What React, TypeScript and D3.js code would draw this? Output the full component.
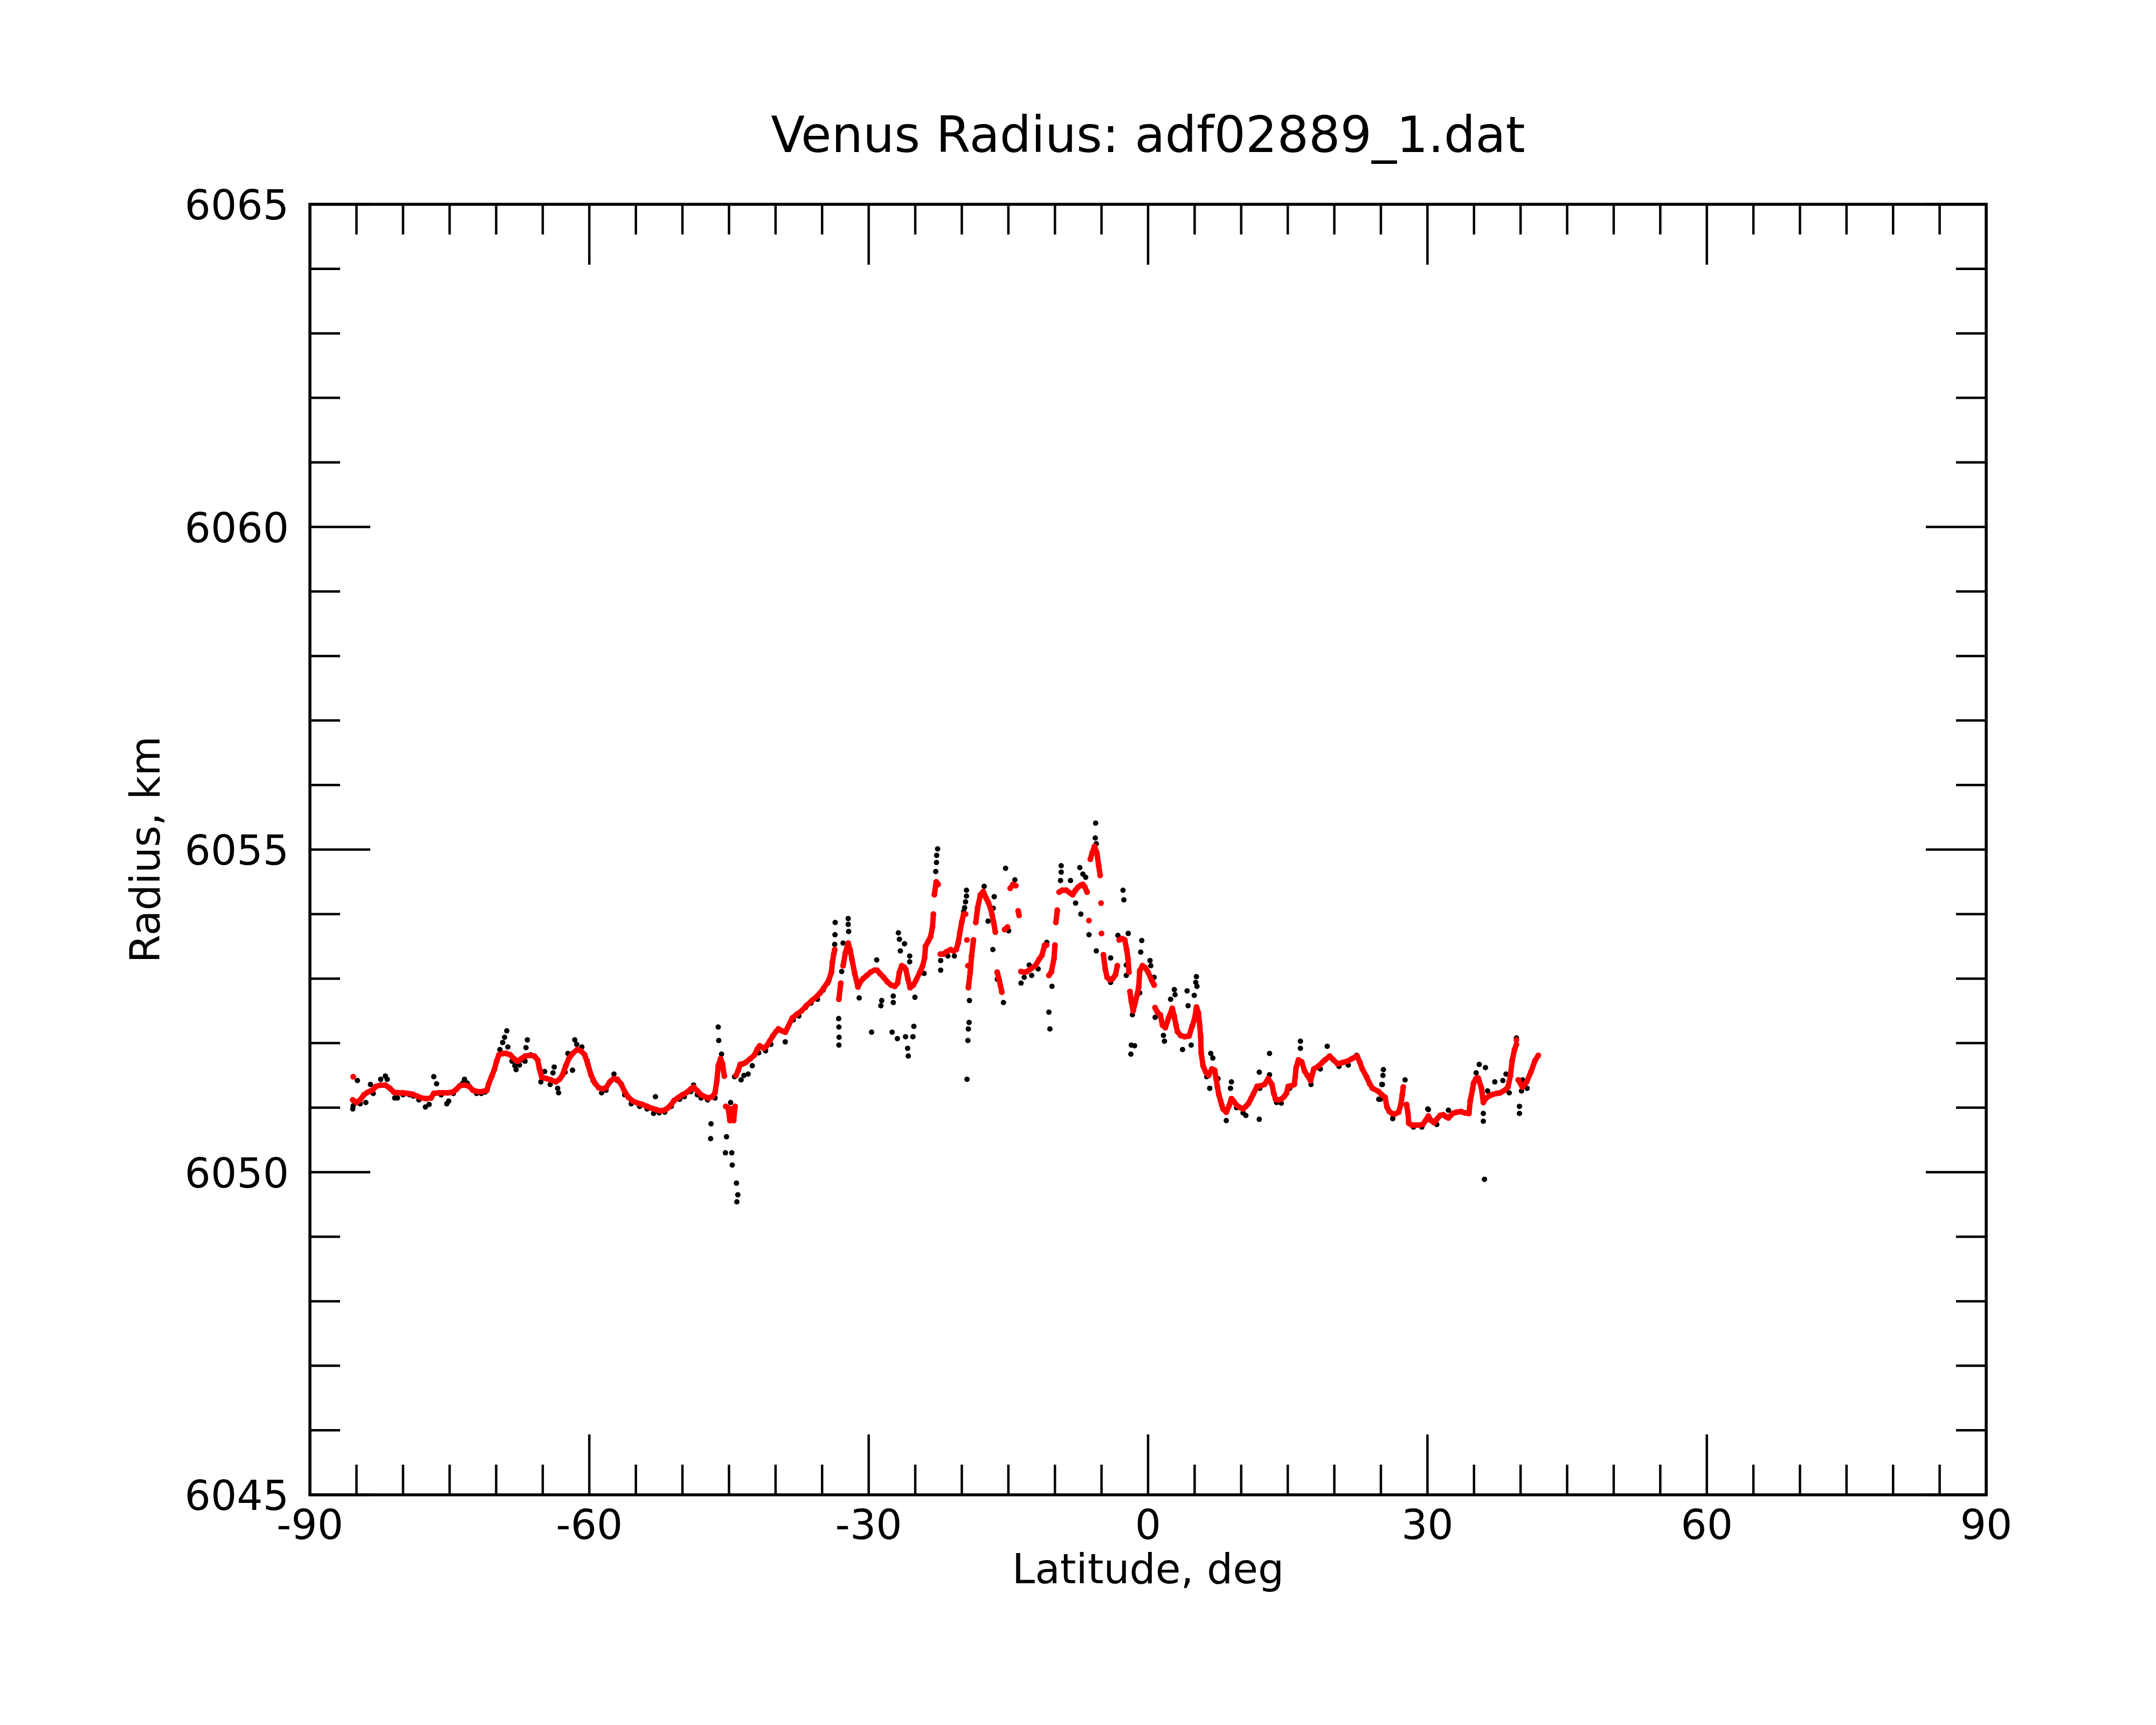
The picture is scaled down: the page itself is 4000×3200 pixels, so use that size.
import React from "react";
import * as d3 from "d3";

const W = 4000;
const H = 3200;

const titleText = "Venus Radius: adf02889_1.dat";
const xLabelText = "Latitude, deg";
const yLabelText = "Radius, km";

const xTickLabels = [-90, -60, -30, 0, 30, 60, 90];
const yTickLabels = [6045, 6050, 6055, 6060, 6065];

// Smoothed profile (red), [latitude deg, radius km]
const redTrack: [number, number][] = [
[-85.4,6051.12],[-85.0,6051.08],[-84.6,6051.12],[-84.2,6051.2],[-83.8,6051.24],[-83.3,6051.27],[-82.9,6051.33],[-82.4,6051.35],[-81.9,6051.35],[-81.4,6051.3],[-81.0,6051.24],[-80.5,6051.23],[-80.0,6051.23],[-79.5,6051.22],[-79.0,6051.21],[-78.5,6051.18],[-78.0,6051.15],[-77.5,6051.14],[-77.0,6051.15],[-76.7,6051.22],[-76.2,6051.23],[-75.7,6051.23],[-75.2,6051.23],[-74.7,6051.24],[-74.3,6051.28],[-73.9,6051.34],[-73.4,6051.35],[-72.9,6051.33],[-72.5,6051.27],[-72.0,6051.25],[-71.5,6051.25],[-71.0,6051.27],[-70.8,6051.37],[-70.5,6051.48],[-70.2,6051.59],[-69.95,6051.72],[-69.7,6051.82],[-69.3,6051.84],[-68.9,6051.84],[-68.5,6051.82],[-68.1,6051.76],[-67.7,6051.72],[-67.3,6051.76],[-66.9,6051.8],[-66.4,6051.81],[-65.9,6051.8],[-65.55,6051.74],[-65.35,6051.6],[-65.1,6051.47],[-64.6,6051.45],[-64.1,6051.43],[-63.6,6051.4],[-63.2,6051.44],[-62.9,6051.5],[-62.55,6051.64],[-62.2,6051.76],[-61.8,6051.84],[-61.3,6051.9],[-60.9,6051.88],[-60.5,6051.82],[-60.15,6051.67],[-59.8,6051.5],[-59.4,6051.38],[-59.0,6051.31],[-58.6,6051.29],[-58.2,6051.31],[-57.8,6051.4],[-57.4,6051.45],[-57.0,6051.44],[-56.6,6051.37],[-56.2,6051.25],[-55.8,6051.16],[-55.3,6051.1],[-54.8,6051.07],[-54.3,6051.05],[-53.8,6051.02],[-53.3,6050.99],[-52.8,6050.97],[-52.4,6050.95],[-52.0,6050.96],[-51.6,6050.99],[-51.2,6051.05],[-50.9,6051.11],[-50.4,6051.16],[-50.0,6051.2],[-49.5,6051.24],[-49.1,6051.29],[-48.8,6051.32],[-48.4,6051.26],[-48.0,6051.2],[-47.6,6051.17],[-47.2,6051.15],[-46.8,6051.17],[-46.5,6051.23],[-46.3,6051.42],[-46.15,6051.65],[-45.9,6051.76],[-45.7,6051.68],[-45.5,6051.49],[-45.35,6051.02],[-45.1,6051.0],[-44.9,6050.8],[-44.7,6050.98],[-44.5,6050.8],[-44.35,6051.02],[-44.25,6051.5],[-44.0,6051.58],[-43.8,6051.67],[-43.5,6051.68],[-43.2,6051.7],[-42.7,6051.76],[-42.3,6051.81],[-41.95,6051.91],[-41.7,6051.96],[-41.3,6051.92],[-41.0,6051.95],[-40.6,6052.04],[-40.3,6052.11],[-39.95,6052.18],[-39.7,6052.22],[-39.3,6052.19],[-38.95,6052.17],[-38.2,6052.39],[-37.7,6052.45],[-37.2,6052.5],[-36.7,6052.58],[-36.1,6052.66],[-35.6,6052.72],[-35.2,6052.78],[-34.8,6052.86],[-34.3,6052.97],[-34.0,6053.1],[-33.9,6053.25],[-33.75,6053.38],[-33.65,6053.45],[-33.2,6052.68],[-33.0,6052.93],[-32.75,6053.2],[-32.5,6053.4],[-32.2,6053.55],[-32.0,6053.45],[-31.8,6053.3],[-31.5,6053.08],[-31.15,6052.87],[-30.9,6052.95],[-30.6,6053.0],[-30.2,6053.05],[-29.8,6053.1],[-29.4,6053.13],[-29.1,6053.13],[-28.8,6053.08],[-28.4,6053.02],[-28.0,6052.95],[-27.6,6052.9],[-27.2,6052.88],[-26.9,6052.93],[-26.7,6053.1],[-26.45,6053.2],[-26.2,6053.18],[-26.0,6053.14],[-25.8,6053.0],[-25.55,6052.86],[-25.2,6052.9],[-24.9,6052.98],[-24.5,6053.1],[-24.2,6053.2],[-24.0,6053.32],[-23.9,6053.5],[-23.6,6053.58],[-23.35,6053.65],[-23.15,6053.8],[-23.05,6054.0],[-22.95,6054.3],[-22.75,6054.5],[-22.55,6054.46],[-22.3,6053.38],[-22.0,6053.38],[-21.6,6053.42],[-21.2,6053.45],[-20.9,6053.43],[-20.6,6053.45],[-20.4,6053.55],[-20.2,6053.72],[-20.0,6053.88],[-19.8,6054.0],[-19.6,6054.0],[-19.45,6053.6],[-19.35,6053.2],[-19.3,6052.86],[-19.1,6053.1],[-18.95,6053.35],[-18.75,6053.6],[-18.5,6053.87],[-18.3,6054.1],[-18.0,6054.3],[-17.7,6054.35],[-17.4,6054.25],[-17.15,6054.18],[-16.9,6054.08],[-16.75,6053.99],[-16.55,6053.85],[-16.4,6053.72],[-16.2,6053.1],[-16.0,6052.99],[-15.7,6052.79],[-15.4,6053.76],[-15.1,6053.8],[-14.8,6054.4],[-14.5,6054.46],[-14.2,6054.44],[-13.95,6054.05],[-13.85,6053.98],[-13.65,6053.11],[-13.3,6053.1],[-13.0,6053.11],[-12.6,6053.15],[-12.1,6053.2],[-11.7,6053.3],[-11.4,6053.36],[-11.1,6053.52],[-10.9,6053.52],[-10.65,6053.05],[-10.4,6053.1],[-10.1,6053.31],[-10.0,6053.52],[-9.9,6053.87],[-9.75,6054.06],[-9.55,6054.34],[-9.2,6054.37],[-8.8,6054.37],[-8.4,6054.33],[-8.1,6054.3],[-7.8,6054.37],[-7.5,6054.42],[-7.2,6054.45],[-7.0,6054.46],[-6.8,6054.42],[-6.55,6054.34],[-6.2,6054.85],[-6.0,6054.95],[-5.75,6055.05],[-5.5,6054.95],[-5.3,6054.75],[-5.15,6054.6],[-5.05,6054.17],[-5.0,6053.7],[-4.8,6053.37],[-4.6,6053.15],[-4.4,6053.02],[-4.1,6052.98],[-3.8,6053.0],[-3.5,6053.06],[-3.3,6053.2],[-3.1,6053.6],[-2.8,6053.62],[-2.5,6053.6],[-2.3,6053.45],[-2.15,6053.3],[-2.05,6053.1],[-1.95,6052.8],[-1.8,6052.65],[-1.6,6052.5],[-1.4,6052.62],[-1.2,6052.74],[-1.0,6052.87],[-0.9,6053.12],[-0.6,6053.2],[-0.3,6053.17],[0.0,6053.1],[0.4,6052.97],[0.65,6052.9],[0.75,6052.55],[1.0,6052.48],[1.3,6052.44],[1.55,6052.28],[1.85,6052.24],[2.2,6052.39],[2.6,6052.54],[2.8,6052.42],[3.0,6052.28],[3.15,6052.18],[3.5,6052.12],[3.9,6052.1],[4.4,6052.11],[4.75,6052.27],[5.0,6052.38],[5.2,6052.56],[5.4,6052.47],[5.55,6052.27],[5.65,6052.1],[5.7,6051.85],[5.9,6051.65],[6.2,6051.55],[6.5,6051.5],[6.85,6051.6],[7.15,6051.58],[7.3,6051.45],[7.45,6051.32],[7.6,6051.2],[7.8,6051.1],[8.05,6050.98],[8.4,6050.93],[8.7,6051.03],[8.95,6051.14],[9.2,6051.1],[9.5,6051.04],[9.9,6051.0],[10.2,6050.98],[10.5,6051.02],[10.8,6051.07],[11.05,6051.14],[11.3,6051.21],[11.7,6051.33],[12.1,6051.34],[12.5,6051.36],[12.9,6051.45],[13.3,6051.36],[13.5,6051.22],[13.7,6051.13],[14.0,6051.12],[14.3,6051.13],[14.6,6051.17],[14.85,6051.22],[15.05,6051.33],[15.4,6051.34],[15.7,6051.36],[15.8,6051.48],[15.9,6051.62],[16.15,6051.74],[16.5,6051.71],[16.8,6051.57],[17.1,6051.5],[17.45,6051.42],[17.8,6051.6],[18.35,6051.65],[18.7,6051.7],[19.0,6051.74],[19.5,6051.8],[19.9,6051.74],[20.35,6051.68],[20.9,6051.7],[21.4,6051.72],[21.9,6051.76],[22.45,6051.8],[22.75,6051.7],[23.0,6051.6],[23.45,6051.48],[23.8,6051.37],[24.1,6051.3],[24.75,6051.25],[25.1,6051.2],[25.45,6051.16],[25.65,6051.01],[25.9,6050.94],[26.2,6050.91],[26.5,6050.9],[26.9,6050.93],[27.15,6051.05],[27.3,6051.2],[27.4,6051.32],[27.75,6051.05],[27.9,6050.92],[28.0,6050.76],[28.3,6050.73],[28.7,6050.73],[29.1,6050.73],[29.5,6050.74],[29.8,6050.8],[30.1,6050.87],[30.4,6050.8],[30.7,6050.77],[31.0,6050.82],[31.35,6050.88],[31.7,6050.89],[32.0,6050.86],[32.25,6050.84],[32.7,6050.91],[33.1,6050.93],[33.6,6050.94],[34.0,6050.92],[34.45,6050.91],[34.6,6051.11],[34.85,6051.29],[34.95,6051.38],[35.2,6051.45],[35.45,6051.46],[35.8,6051.3],[36.0,6051.08],[36.25,6051.14],[36.6,6051.18],[36.9,6051.2],[37.4,6051.22],[37.8,6051.23],[38.3,6051.27],[38.65,6051.32],[38.9,6051.49],[39.1,6051.73],[39.35,6051.9],[39.55,6051.98],[39.75,6051.43],[40.2,6051.32],[40.65,6051.4],[41.1,6051.55],[41.55,6051.73],[41.9,6051.81]
];

// Isolated red points
const redExtra: [number, number][] = [
[-85.35,6051.48],[-6.35,6053.9],[39.55,6052.05]
];

// Raw measurements (black)
const blackPoints: [number, number][] = [
[-85.4,6050.98],[-85.35,6051.03],[-84.9,6051.42],[-84.6,6051.06],[-84.0,6051.08],[-83.5,6051.36],[-83.2,6051.22],[-82.4,6051.44],[-81.9,6051.49],[-81.7,6051.44],[-81.3,6051.28],[-80.9,6051.15],[-80.6,6051.15],[-80.0,6051.2],[-79.3,6051.2],[-78.9,6051.18],[-78.3,6051.12],[-77.6,6051.01],[-77.2,6051.05],[-76.7,6051.48],[-76.4,6051.37],[-75.9,6051.2],[-75.3,6051.06],[-75.1,6051.1],[-74.6,6051.22],[-73.6,6051.38],[-73.4,6051.44],[-73.1,6051.38],[-72.1,6051.22],[-71.6,6051.22],[-71.2,6051.24],[-69.6,6051.9],[-69.3,6052.01],[-69.1,6052.09],[-68.86,6052.19],[-68.75,6051.94],[-68.3,6051.72],[-68.0,6051.65],[-67.86,6051.59],[-67.5,6051.66],[-67.2,6051.74],[-66.9,6051.72],[-66.8,6051.93],[-66.65,6052.05],[-66.3,6051.82],[-65.8,6051.78],[-65.2,6051.4],[-64.8,6051.56],[-64.2,6051.36],[-63.9,6051.54],[-63.77,6051.63],[-63.4,6051.3],[-63.3,6051.23],[-62.6,6051.55],[-62.3,6051.84],[-61.8,6051.58],[-61.56,6052.05],[-61.35,6051.98],[-60.8,6051.94],[-60.23,6051.73],[-59.6,6051.42],[-58.68,6051.23],[-58.2,6051.27],[-57.35,6051.52],[-57.0,6051.42],[-56.2,6051.2],[-55.5,6051.06],[-54.6,6051.02],[-53.8,6050.98],[-53.1,6050.91],[-52.9,6051.17],[-52.5,6050.92],[-51.9,6050.93],[-51.2,6051.02],[-50.3,6051.13],[-49.8,6051.17],[-49.1,6051.25],[-48.8,6051.35],[-48.4,6051.2],[-48.0,6051.15],[-47.3,6051.12],[-46.97,6050.52],[-46.93,6050.75],[-46.5,6051.15],[-46.16,6052.25],[-46.1,6052.04],[-45.8,6051.83],[-45.38,6050.3],[-45.27,6050.55],[-44.83,6051.08],[-44.7,6050.3],[-44.65,6050.11],[-44.4,6051.48],[-44.2,6049.83],[-44.16,6049.54],[-44.05,6049.65],[-43.7,6051.43],[-43.4,6051.5],[-42.95,6051.52],[-42.5,6051.65],[-41.8,6051.85],[-41.07,6051.88],[-40.5,6051.98],[-39.74,6052.2],[-38.96,6052.02],[-38.1,6052.36],[-37.5,6052.42],[-36.8,6052.55],[-36.2,6052.62],[-35.5,6052.68],[-34.9,6052.82],[-34.4,6052.93],[-33.65,6053.53],[-33.62,6053.68],[-33.6,6053.87],[-33.22,6052.38],[-33.2,6052.25],[-33.18,6052.09],[-33.2,6051.97],[-32.9,6053.11],[-32.75,6053.55],[-32.2,6053.93],[-32.2,6053.84],[-32.15,6053.73],[-31.02,6052.7],[-29.69,6052.17],[-29.14,6053.29],[-28.69,6052.58],[-28.6,6052.66],[-27.48,6052.17],[-27.36,6052.73],[-27.36,6052.63],[-26.92,6052.07],[-26.81,6053.71],[-26.7,6053.61],[-26.6,6053.43],[-26.15,6053.54],[-26.04,6052.1],[-25.82,6051.92],[-25.75,6051.8],[-25.6,6053.35],[-25.6,6053.26],[-25.25,6052.1],[-25.15,6052.26],[-25.04,6052.71],[-24.05,6053.08],[-22.8,6054.66],[-22.72,6054.8],[-22.7,6054.91],[-22.6,6055.01],[-22.27,6053.13],[-22.27,6053.28],[-21.5,6053.35],[-20.8,6053.35],[-19.8,6054.04],[-19.7,6054.1],[-19.6,6054.19],[-19.5,6054.28],[-19.5,6054.37],[-19.44,6051.44],[-19.35,6052.04],[-19.3,6052.22],[-19.22,6052.32],[-19.18,6052.66],[-17.8,6054.3],[-17.6,6054.43],[-17.18,6053.89],[-16.67,6053.45],[-16.63,6054.09],[-16.52,6054.27],[-16.19,6052.99],[-15.53,6052.63],[-15.3,6054.71],[-14.97,6053.74],[-14.3,6054.53],[-13.64,6052.93],[-13.3,6053.02],[-12.76,6053.21],[-12.5,6053.05],[-11.8,6053.15],[-10.88,6053.56],[-10.65,6052.48],[-10.54,6052.22],[-10.32,6052.88],[-9.4,6054.52],[-9.33,6054.65],[-9.33,6054.75],[-8.33,6054.52],[-7.78,6054.17],[-7.33,6054.72],[-7.22,6054.0],[-7.0,6054.62],[-6.7,6054.57],[-6.34,6053.68],[-5.67,6055.18],[-5.63,6055.41],[-5.56,6055.09],[-5.56,6053.43],[-4.02,6053.32],[-4.02,6052.94],[-3.24,6053.67],[-2.69,6054.37],[-2.6,6054.22],[-2.34,6053.21],[-2.34,6053.05],[-2.13,6053.7],[-1.85,6051.83],[-1.8,6051.97],[-1.68,6052.44],[-1.45,6051.96],[-0.9,6052.78],[-0.79,6053.41],[-0.68,6053.59],[0.21,6053.28],[0.3,6053.2],[0.65,6053.02],[0.76,6052.4],[1.65,6052.12],[1.76,6052.03],[2.42,6052.68],[2.82,6052.83],[2.9,6052.75],[3.7,6051.9],[4.19,6052.81],[4.3,6052.58],[4.63,6051.97],[4.96,6052.74],[5.12,6052.94],[5.19,6053.03],[5.25,6052.88],[6.3,6051.48],[6.62,6051.3],[6.73,6051.84],[6.95,6051.77],[7.51,6051.45],[7.9,6051.04],[8.4,6050.8],[8.85,6051.3],[8.95,6051.4],[9.5,6051.0],[10.2,6050.92],[10.5,6050.88],[11.94,6050.82],[11.94,6051.55],[12.0,6051.3],[13.04,6051.84],[13.04,6051.51],[13.8,6051.08],[14.3,6051.07],[15.2,6051.3],[16.36,6052.03],[16.36,6051.92],[17.5,6051.36],[18.5,6051.6],[19.24,6051.95],[20.5,6051.64],[21.5,6051.66],[22.4,6051.81],[24.77,6051.13],[24.94,6051.13],[25.1,6051.36],[25.16,6051.36],[25.22,6051.5],[25.27,6051.59],[26.27,6050.83],[27.6,6051.43],[28.5,6050.7],[29.4,6050.7],[30.03,6050.98],[30.1,6050.97],[31.0,6050.74],[32.25,6050.96],[35.23,6051.54],[35.56,6051.67],[36.0,6050.91],[36.0,6050.79],[36.1,6051.11],[36.12,6049.89],[36.23,6051.62],[36.45,6051.26],[37.23,6051.4],[38.1,6051.42],[38.44,6051.52],[38.78,6051.23],[39.55,6052.08],[39.88,6051.02],[39.88,6050.91],[40.1,6051.26],[40.21,6051.43],[40.7,6051.3]
];

const FONT = "'DejaVu Sans', 'Liberation Sans', sans-serif";

export default function App() {
  const left = 575, right = 3685, top = 379, bottom = 2773;
  const x = d3.scaleLinear().domain([-90, 90]).range([left, right]);
  const y = d3.scaleLinear().domain([6045, 6065]).range([bottom, top]);

  const xMinor = d3.range(-90, 90.001, 5);
  const yMinor = d3.range(6045, 6065.001, 1);
  const majorLen = 112, minorLen = 56;

  const segs: { x1: number; y1: number; x2: number; y2: number }[] = [];
  for (let i = 1; i < redTrack.length; i++) {
    const x1 = x(redTrack[i - 1][0]), y1 = y(redTrack[i - 1][1]);
    const x2 = x(redTrack[i][0]), y2 = y(redTrack[i][1]);
    if (Math.abs(x2 - x1) < 20 && Math.abs(y2 - y1) < 30) segs.push({ x1, y1, x2, y2 });
  }

  const isMajorX = (v: number) => Math.abs(v % 30) < 1e-6;
  const isMajorY = (v: number) => Math.abs((v - 6045) % 5) < 1e-6;

  return (
    <svg width={W} height={H} viewBox={`0 0 ${W} ${H}`} style={{ position: "absolute", left: 0, top: 0, background: "#fff" }}>
      <rect x={0} y={0} width={W} height={H} fill="#fff" />
      <g>
        {blackPoints.map((d, i) => (
          <circle key={"b" + i} cx={x(d[0])} cy={y(d[1])} r={5} fill="#000" />
        ))}
      </g>
      <g>
        {segs.map((s, i) => (
          <line key={"s" + i} x1={s.x1} y1={s.y1} x2={s.x2} y2={s.y2} stroke="#ff0000" strokeWidth={10} strokeLinecap="round" />
        ))}
        {redTrack.map((d, i) => (
          <circle key={"r" + i} cx={x(d[0])} cy={y(d[1])} r={5.4} fill="#ff0000" />
        ))}
        {redExtra.map((d, i) => (
          <circle key={"re" + i} cx={x(d[0])} cy={y(d[1])} r={5.4} fill="#ff0000" />
        ))}
      </g>
      <g stroke="#000" strokeWidth={4.5}>
        {xMinor.map((v) => {
          const len = isMajorX(v) ? majorLen : minorLen;
          return (
            <g key={"xt" + v}>
              <line x1={x(v)} x2={x(v)} y1={bottom} y2={bottom - len} />
              <line x1={x(v)} x2={x(v)} y1={top} y2={top + len} />
            </g>
          );
        })}
        {yMinor.map((v) => {
          const len = isMajorY(v) ? majorLen : minorLen;
          return (
            <g key={"yt" + v}>
              <line x1={left} x2={left + len} y1={y(v)} y2={y(v)} />
              <line x1={right} x2={right - len} y1={y(v)} y2={y(v)} />
            </g>
          );
        })}
      </g>
      <rect x={left} y={top} width={right - left} height={bottom - top} fill="none" stroke="#000" strokeWidth={5.5} />
      <g fontFamily={FONT} fontSize={76} fill="#000">
        {xTickLabels.map((v) => (
          <text key={"xl" + v} x={x(v)} y={2855} textAnchor="middle">{String(v)}</text>
        ))}
        {yTickLabels.map((v) => (
          <text key={"yl" + v} x={536} y={y(v) + 28} textAnchor="end">{String(v)}</text>
        ))}
        <text x={(left + right) / 2} y={2937} textAnchor="middle">{xLabelText}</text>
        <text transform={`translate(296, ${(top + bottom) / 2}) rotate(-90)`} textAnchor="middle">{yLabelText}</text>
      </g>
      <text x={(left + right) / 2} y={282} textAnchor="middle" fontFamily={FONT} fontSize={92} fill="#000">{titleText}</text>
    </svg>
  );
}
